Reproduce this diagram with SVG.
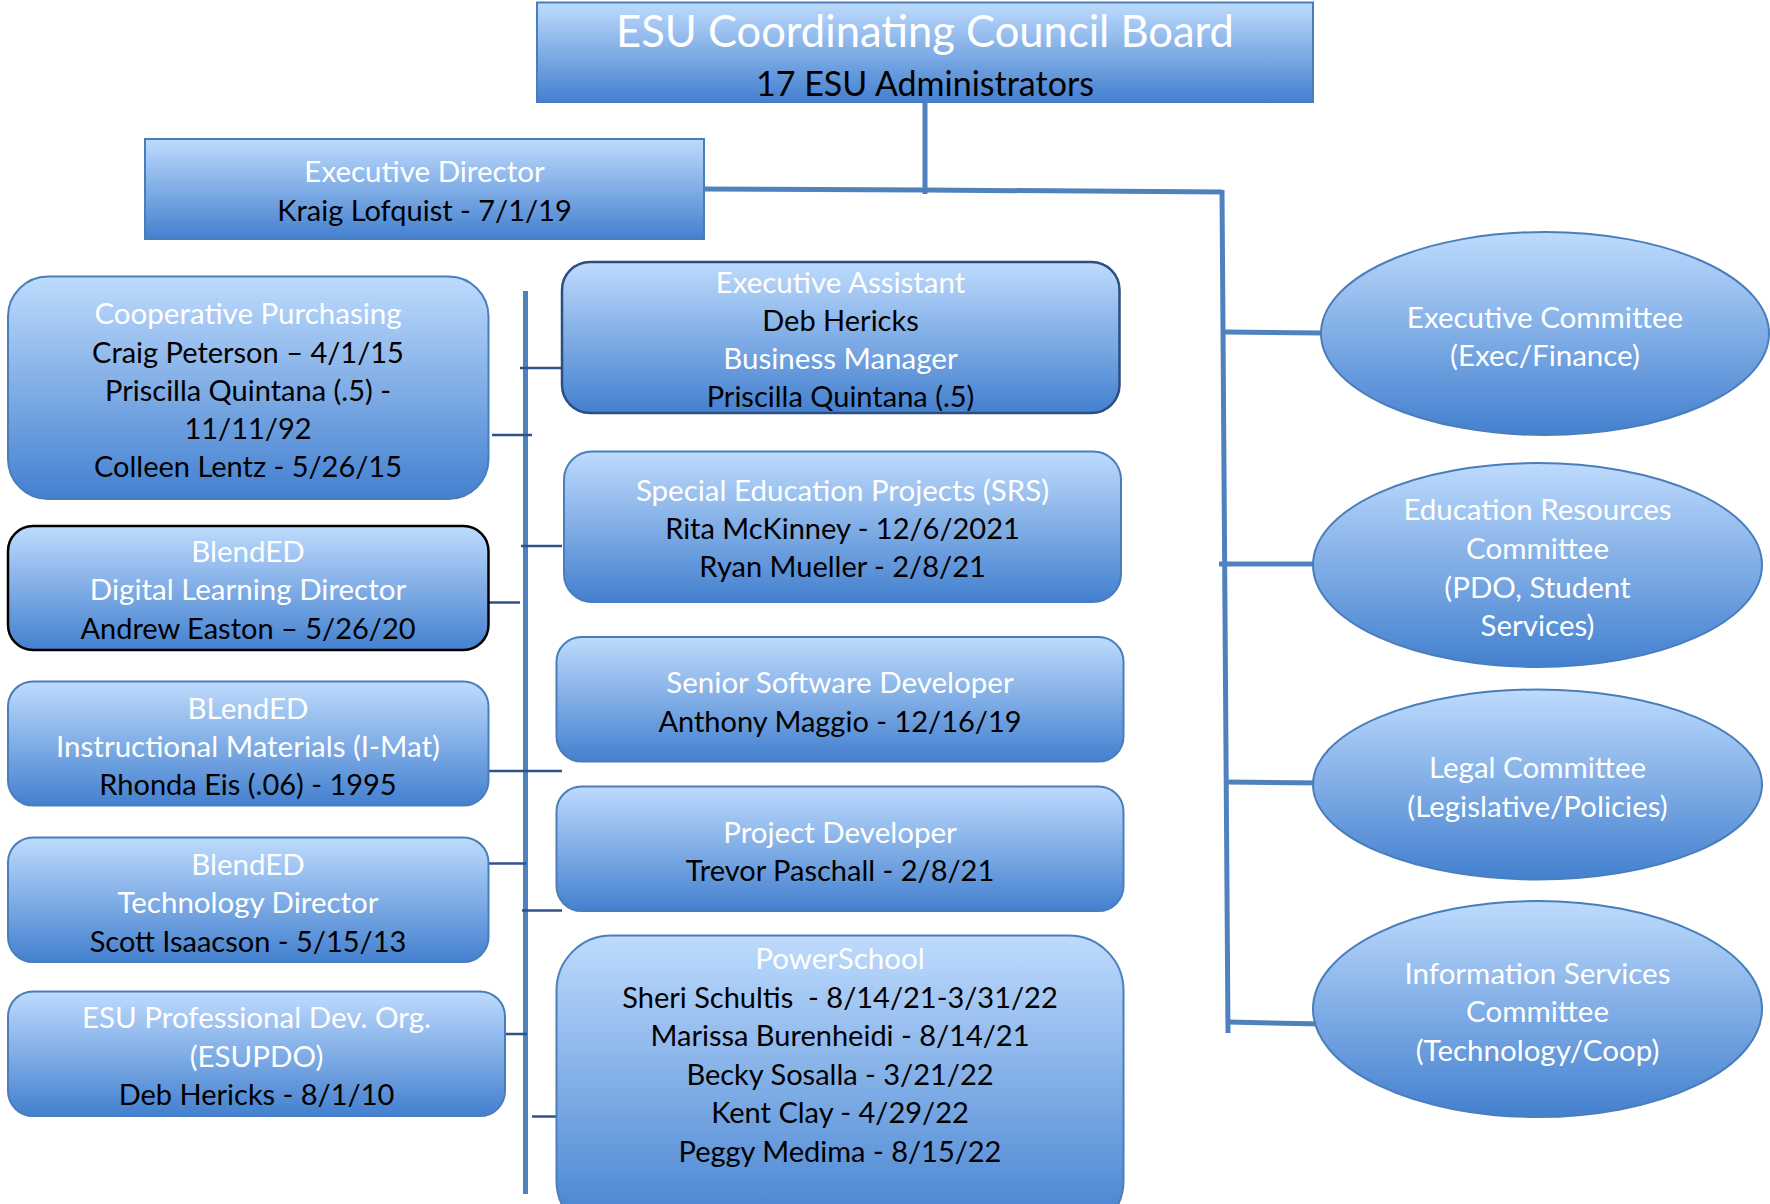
<svg xmlns="http://www.w3.org/2000/svg" width="1770" height="1204" viewBox="0 0 1770 1204">
<defs>
<linearGradient id="g" x1="0" y1="0" x2="0" y2="1">
<stop offset="0" stop-color="#bedbfd"/>
<stop offset="1" stop-color="#4380cf"/>
</linearGradient>
<style>
.n{fill:url(#g);stroke:#4a7ebb;stroke-width:2}
.dk{stroke:#2b4f82;stroke-width:2.5}
.bk{stroke:#000;stroke-width:2.5}
text{font-family:Lato,"Liberation Sans",sans-serif;font-size:29px;text-anchor:middle}
.w{fill:#fff;font-size:29.5px}
.b{fill:#000}
.main{fill:none;stroke:#4f81bd;stroke-width:5}
.tick{fill:none;stroke:#2e528c;stroke-width:2.5}
</style>
</defs>
<rect width="1770" height="1204" fill="#fff"/>

<g id="connectors">
<line class="main" x1="925" y1="102" x2="925" y2="194"/>
<polyline class="main" points="704,189 925,190 1222,192 1222,190 1228,1033"/>
<line class="main" x1="1225" y1="332" x2="1321" y2="333"/>
<line class="main" x1="1219" y1="564" x2="1313" y2="564"/>
<line class="main" x1="1227" y1="782" x2="1323" y2="783"/>
<line class="main" x1="1228" y1="1022" x2="1323" y2="1024"/>
<line class="main" x1="525.5" y1="291" x2="525.5" y2="1194"/>
<line class="tick" x1="520" y1="368" x2="561" y2="368"/>
<line class="tick" x1="492" y1="435" x2="532" y2="435"/>
<line class="tick" x1="521" y1="546" x2="562" y2="546"/>
<line class="tick" x1="469" y1="602.5" x2="520" y2="602.5"/>
<line class="tick" x1="470" y1="771" x2="562" y2="771"/>
<line class="tick" x1="485" y1="863.5" x2="526" y2="863.5"/>
<line class="tick" x1="522" y1="910.5" x2="562" y2="910.5"/>
<line class="tick" x1="486" y1="1034" x2="527" y2="1034"/>
<line class="tick" x1="532" y1="1116.5" x2="557" y2="1116.5"/>
</g>

<g id="board">
<rect class="n" x="537" y="2.5" width="776" height="99.5"/>
<text class="w" x="925" y="47" style="font-size:43.5px">ESU Coordinating Council Board</text>
<text class="b" x="925" y="96" style="font-size:34px">17 ESU Administrators</text>
</g>

<g id="exec-director">
<rect class="n" x="145" y="139" width="559" height="100"/>
<text class="w" x="424.5" y="182">Executive Director</text>
<text class="b" x="424.5" y="221">Kraig Lofquist - 7/1/19</text>
</g>

<g id="coop-purchasing">
<rect class="n" x="8" y="276.5" width="480.5" height="222.5" rx="40"/>
<text class="w" x="248" y="324">Cooperative Purchasing</text>
<text class="b" x="248" y="362.5">Craig Peterson – 4/1/15</text>
<text class="b" x="248" y="400.5">Priscilla Quintana (.5) -</text>
<text class="b" x="248" y="439">11/11/92</text>
<text class="b" x="248" y="477">Colleen Lentz - 5/26/15</text>
</g>

<g id="blended-digital">
<rect class="n bk" x="8" y="526" width="480.5" height="124" rx="25"/>
<text class="w" x="248" y="561.5">BlendED</text>
<text class="w" x="248" y="599.5">Digital Learning Director</text>
<text class="b" x="248" y="638.5">Andrew Easton – 5/26/20</text>
</g>

<g id="blended-imat">
<rect class="n" x="8" y="681.5" width="480.5" height="124" rx="25"/>
<text class="w" x="248" y="718.5">BLendED</text>
<text class="w" x="248" y="756.5">Instructional Materials (I-Mat)</text>
<text class="b" x="248" y="794.5">Rhonda Eis (.06) - 1995</text>
</g>

<g id="blended-tech">
<rect class="n" x="8" y="837.5" width="480.5" height="124.5" rx="25"/>
<text class="w" x="248" y="874.5">BlendED</text>
<text class="w" x="248" y="912.5">Technology Director</text>
<text class="b" x="248" y="951.5">Scott Isaacson - 5/15/13</text>
</g>

<g id="esupdo">
<rect class="n" x="8" y="991.5" width="497" height="124.5" rx="25"/>
<text class="w" x="256.5" y="1027.5">ESU Professional Dev. Org.</text>
<text class="w" x="256.5" y="1066.5">(ESUPDO)</text>
<text class="b" x="256.5" y="1104.5">Deb Hericks - 8/1/10</text>
</g>

<g id="exec-assistant">
<rect class="n dk" x="562" y="262" width="557.5" height="151" rx="28"/>
<text class="w" x="840.5" y="292.5">Executive Assistant</text>
<text class="b" x="840.5" y="331">Deb Hericks</text>
<text class="w" x="840.5" y="369">Business Manager</text>
<text class="b" x="840.5" y="407">Priscilla Quintana (.5)</text>
</g>

<g id="special-ed">
<rect class="n" x="564" y="451.5" width="557" height="150.5" rx="28"/>
<text class="w" x="842.5" y="500.5">Special Education Projects (SRS)</text>
<text class="b" x="842.5" y="539">Rita McKinney - 12/6/2021</text>
<text class="b" x="842.5" y="577">Ryan Mueller - 2/8/21</text>
</g>

<g id="senior-dev">
<rect class="n" x="556.5" y="637" width="567" height="124.5" rx="25"/>
<text class="w" x="840" y="692.5">Senior Software Developer</text>
<text class="b" x="840" y="731.5">Anthony Maggio - 12/16/19</text>
</g>

<g id="project-dev">
<rect class="n" x="556.5" y="786.5" width="567" height="124.5" rx="25"/>
<text class="w" x="840" y="842.5">Project Developer</text>
<text class="b" x="840" y="880.5">Trevor Paschall - 2/8/21</text>
</g>

<g id="powerschool">
<rect class="n" x="556.5" y="935.5" width="567" height="300" rx="55"/>
<text class="w" x="840" y="968.5">PowerSchool</text>
<text class="b" x="840" y="1007.5" xml:space="preserve">Sheri Schultis  - 8/14/21-3/31/22</text>
<text class="b" x="840" y="1045.5">Marissa Burenheidi - 8/14/21</text>
<text class="b" x="840" y="1084.5">Becky Sosalla - 3/21/22</text>
<text class="b" x="840" y="1122.5">Kent Clay - 4/29/22</text>
<text class="b" x="840" y="1161.5">Peggy Medima - 8/15/22</text>
</g>

<g id="exec-committee">
<ellipse class="n" cx="1545" cy="333.5" rx="224" ry="101.5"/>
<text class="w" x="1545" y="327.5">Executive Committee</text>
<text class="w" x="1545" y="365.5">(Exec/Finance)</text>
</g>

<g id="edu-resources">
<ellipse class="n" cx="1537.5" cy="565" rx="224.5" ry="102"/>
<text class="w" x="1537.5" y="519.5">Education Resources</text>
<text class="w" x="1537.5" y="558.5">Committee</text>
<text class="w" x="1537.5" y="597.5">(PDO, Student</text>
<text class="w" x="1537.5" y="635.5">Services)</text>
</g>

<g id="legal">
<ellipse class="n" cx="1537.5" cy="784.5" rx="224.5" ry="95"/>
<text class="w" x="1537.5" y="777.5">Legal Committee</text>
<text class="w" x="1537.5" y="816.5">(Legislative/Policies)</text>
</g>

<g id="info-services">
<ellipse class="n" cx="1537.5" cy="1009" rx="224.5" ry="108"/>
<text class="w" x="1537.5" y="983.5">Information Services</text>
<text class="w" x="1537.5" y="1021.5">Committee</text>
<text class="w" x="1537.5" y="1060.5">(Technology/Coop)</text>
</g>
</svg>
